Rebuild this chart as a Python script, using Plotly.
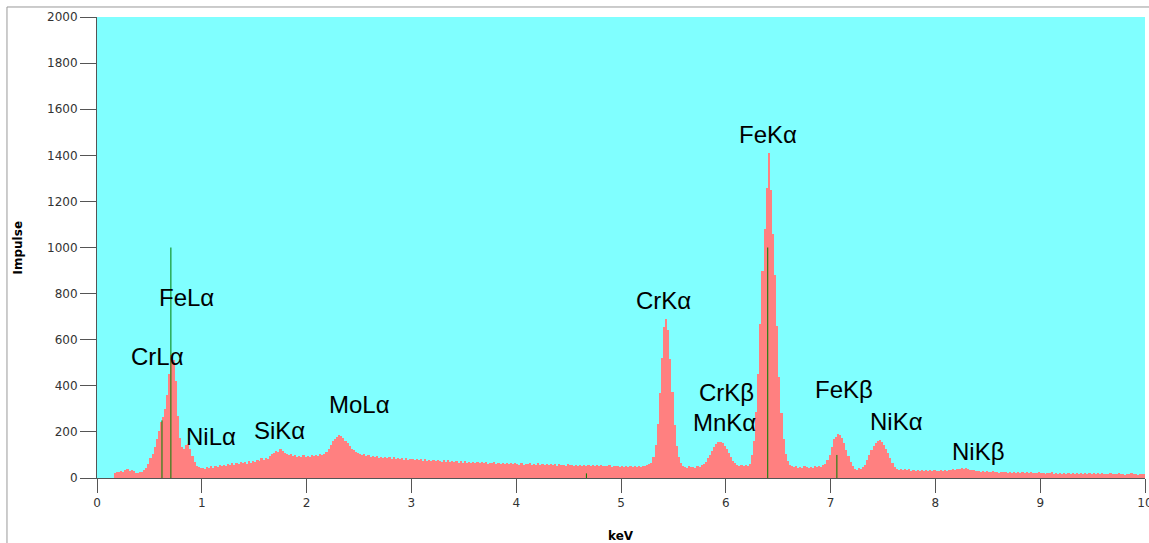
import plotly.graph_objects as go

# ---------------- data ----------------
ENERGY_START = 0.16   # keV of first channel
ENERGY_STEP = 0.02    # keV per channel

COUNTS = [
    22, 25, 24, 30, 28, 34, 38, 31, 36, 29, 22, 20, 24, 27, 33, 45, 62,          # 0.16-0.48
    85, 105, 135, 170, 205, 245, 265, 300, 360, 450, 535, 510, 420, 270, 175,
    135, 128, 142, 148, 125, 95, 68, 52, 46, 42,                                  # 0.50-0.98
    44, 38, 47, 42, 50, 45, 52, 47, 55, 50, 58, 53, 60, 55, 64, 58, 66, 60, 70,
    63, 68, 62, 74, 67, 72,                                                       # 1.00-1.48
    70, 80, 74, 85, 78, 88, 84, 96, 102, 108, 115, 112, 124, 118, 110, 106, 98,
    102, 94, 99, 92, 97, 90, 98, 93,                                              # 1.50-1.98
    96, 91, 99, 94, 101, 96, 103, 98, 105, 112, 128, 145, 160, 168, 176, 188,
    182, 172, 160, 150, 138, 128, 120, 112, 108,                                  # 2.00-2.48
    104, 98, 102, 95, 99, 92, 97, 90, 94, 88, 93, 86, 91, 85, 90, 84, 89, 82, 88,
    81, 86, 80, 87, 79, 84,                                                       # 2.50-2.98
    82, 77, 84, 76, 81, 75, 83, 74, 79, 73, 80, 72, 78, 74, 70, 77, 71, 76, 69,
    75, 68, 74, 67, 73, 66,                                                       # 3.00-3.48
    72, 66, 71, 64, 70, 65, 69, 63, 70, 64, 68, 62, 67, 63, 69, 61, 66, 62, 67,
    60, 65, 61, 66, 59, 64,                                                       # 3.50-3.98
    62, 58, 64, 57, 62, 59, 63, 56, 61, 58, 64, 55, 60, 57, 62, 55, 59, 56, 61,
    54, 60, 55, 58, 54, 59,                                                       # 4.00-4.48
    55, 58, 53, 57, 52, 56, 54, 58, 51, 55, 53, 57, 50, 55, 52, 56, 50, 54, 51,
    55, 49, 53, 50, 54, 49,                                                       # 4.50-4.98
    53, 48, 52, 47, 51, 46, 50, 48, 52, 49, 53, 50, 55, 60, 65, 90, 143, 236,
    370, 520, 655, 688, 640, 515, 375,                                            # 5.00-5.48
    232, 140, 92, 64, 52, 48, 44, 50, 46, 49, 45, 52, 48, 55, 60, 70, 85, 100,
    118, 135, 146, 155, 158, 152, 140,                                            # 5.50-5.98
    125, 108, 90, 75, 64, 58, 53, 55, 52, 56, 52, 62, 100, 160, 285, 450, 670,
    900, 1080, 1260, 1410, 1250, 1060, 880, 660,                                  # 6.00-6.48
    440, 280, 170, 105, 75, 58, 50, 47, 52, 45, 49, 44, 50, 46, 42, 48, 44, 50,
    47, 52, 48, 55, 62, 78, 100,                                                  # 6.50-6.98
    135, 168, 180, 190, 185, 172, 150, 122, 95, 70, 50, 40, 36, 42, 38, 46, 58,
    78, 100, 122, 140, 152, 160, 165, 158,                                        # 7.00-7.48
    145, 128, 110, 88, 66, 48, 40, 36, 41, 34, 38, 33, 37, 31, 36, 32, 35, 30,
    34, 31, 36, 30, 33, 29, 34,                                                   # 7.50-7.98
    31, 29, 33, 30, 34, 31, 35, 33, 38, 36, 41, 39, 43, 40, 42, 38, 36, 33, 35,
    30, 32, 28, 31, 27, 30,                                                       # 8.00-8.48
    27, 25, 29, 24, 27, 23, 26, 24, 28, 22, 26, 23, 25, 21, 25, 22, 26, 21, 24,
    20, 25, 21, 23, 20, 24,                                                       # 8.50-8.98
    21, 23, 19, 22, 20, 24, 19, 22, 18, 21, 19, 23, 18, 21, 19, 22, 17, 21, 19,
    22, 18, 20, 17, 21, 18,                                                       # 9.00-9.48
    20, 17, 21, 18, 20, 16, 19, 17, 21, 16, 19, 17, 20, 16, 18, 15, 19, 17, 20,
    16, 18, 15, 19, 16, 18,                                                       # 9.50-9.98
    17,                                                                           # 10.00
]

# reference line markers (keV, impulse)
MARKER_KEV = [0.62, 0.705, 4.67, 6.40, 7.06]
MARKER_H = [250, 1000, 20, 1000, 100]

# peak labels
LABEL_TEXT = ["FeLα", "CrLα", "NiLα", "SiKα", "MoLα", "CrKα", "CrKβ", "MnKα",
              "FeKα", "FeKβ", "NiKα", "NiKβ"]
LABEL_KEV = [0.85, 0.573, 1.088, 1.737, 2.50, 5.41, 6.01, 5.99, 6.40, 7.13, 7.63, 8.41]
LABEL_Y = [785, 525, 178, 208, 317, 768, 373, 239, 1492, 382, 243, 113]

X_TICKS = list(range(0, 11))
Y_TICKS = list(range(0, 2001, 200))

# ---------------- figure ----------------
energies = [round(ENERGY_START + ENERGY_STEP * i, 4) for i in range(len(COUNTS))]

fig = go.Figure()
fig.add_trace(go.Bar(
    x=energies, y=COUNTS, width=ENERGY_STEP * 1.05, offset=0,
    marker=dict(color="#FF8080", line=dict(width=0)),
    hoverinfo="skip", showlegend=False))

mx, my = [], []
for e, h in zip(MARKER_KEV, MARKER_H):
    mx += [e, e, None]
    my += [0, h, None]
fig.add_trace(go.Scatter(x=mx, y=my, mode="lines", line=dict(color="#008000", width=1),
                         hoverinfo="skip", showlegend=False))

for t, x, y in zip(LABEL_TEXT, LABEL_KEV, LABEL_Y):
    fig.add_annotation(x=x, y=y, xref="x", yref="y", text=t, showarrow=False,
                       font=dict(family="Liberation Sans, Arial", size=24, color="black"))

# axis titles
fig.add_annotation(x=0.5, y=-0.125, xref="paper", yref="paper", text="<b>keV</b>",
                   showarrow=False, xanchor="center", yanchor="middle",
                   font=dict(family="DejaVu Sans", size=12, color="black"))
fig.add_annotation(x=-0.0754, y=0.5, xref="paper", yref="paper", text="<b>Impulse</b>",
                   showarrow=False, textangle=-90, xanchor="center", yanchor="middle",
                   font=dict(family="DejaVu Sans", size=12, color="black"))

# outer frame lines
fig.add_shape(type="line", xref="paper", yref="paper", x0=-0.0859, x1=-0.0859,
              y0=1.0217, y1=-0.2, line=dict(color="#999999", width=1))
fig.add_shape(type="line", xref="paper", yref="paper", x0=-0.0859, x1=1.01,
              y0=1.0217, y1=1.0217, line=dict(color="#999999", width=1))

axis_font = dict(family="DejaVu Sans", size=12, color="#333333")
fig.update_xaxes(range=[0, 10], tickvals=X_TICKS, ticks="outside", ticklen=14,
                 tickcolor="#555555", tickwidth=1, showgrid=False, zeroline=False,
                 showline=True, linecolor="#555555", linewidth=1, tickfont=axis_font,
                 automargin=False, ticklabeloverflow="allow")
fig.update_yaxes(range=[0, 2000], tickvals=Y_TICKS, ticks="outside", ticklen=16,
                 tickcolor="#555555", tickwidth=1, showgrid=False, zeroline=False,
                 showline=True, linecolor="#555555", linewidth=1, tickfont=axis_font,
                 automargin=False, ticklabeloverflow="allow")

fig.update_layout(width=1149, height=543, margin=dict(l=97, r=4, t=17, b=65),
                  plot_bgcolor="#80FFFF", paper_bgcolor="white", bargap=0)

fig.write_html("out.html", config={"displayModeBar": False},
               post_script="document.body.style.margin='0';"
                           "document.body.style.overflow='hidden';")
